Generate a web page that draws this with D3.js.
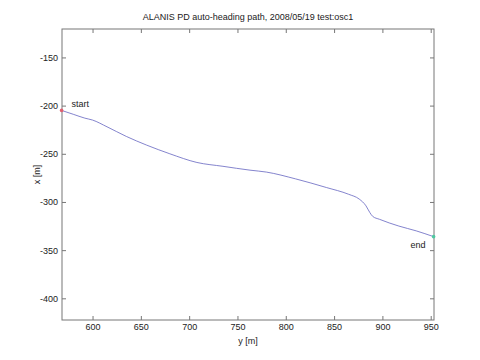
<!DOCTYPE html>
<html lang="en">
<head>
<meta charset="UTF-8">
<title>ALANIS PD path</title>
<script src="https://d3js.org/d3.v7.min.js"></script>
<style>
  body { margin: 0; background: #fff; }
  text { font-family: "Liberation Sans", Arial, sans-serif; fill: #222; }
</style>
</head>
<body>
<script>
    var width = 480, height = 360;
    var margin = {left: 62, right: 46, top: 29, bottom: 40};

    // path samples: east (y) and north (x) in metres
    var pathY = [568, 580, 592, 600, 615, 635, 656, 680, 708, 735, 763, 780, 810, 842, 865, 876, 883, 887, 890, 897, 917, 935, 953];
    var pathX = [-205, -209, -213, -215, -222, -232, -241, -250, -259, -263, -267, -269, -276, -285, -292, -297, -304, -311, -315, -318, -325, -330, -336];
    var xTicks = [600, 650, 700, 750, 800, 850, 900, 950];
    var yTicks = [-150, -200, -250, -300, -350, -400];
    var xDomain = [568.4, 953.4];
    var yDomain = [-422.5, -120.5];

    var svg = d3.select('body').append('svg').attr('width', width).attr('height', height);

    var x = d3.scaleLinear().domain(xDomain).range([margin.left, width - margin.right]);
    var y = d3.scaleLinear().domain(yDomain).range([height - margin.bottom, margin.top]);

    // axes box
    svg.append('rect')
        .attr('x', x.range()[0]).attr('y', y.range()[1])
        .attr('width', x.range()[1] - x.range()[0])
        .attr('height', y.range()[0] - y.range()[1])
        .attr('fill', 'none').attr('stroke', '#777').attr('stroke-width', 1);

    // matlab style inward ticks on all four sides
    function tickStyle(g) {
        g.select('.domain').remove();
        g.selectAll('line').attr('stroke', '#777');
        g.selectAll('text').attr('font-size', '9px').attr('fill', '#333');
    }
    var fmt = function (d) { return String(d); };
    svg.append('g').attr('transform', 'translate(0,' + y.range()[0] + ')')
        .call(d3.axisBottom(x).tickValues(xTicks).tickSizeInner(-4).tickPadding(4).tickFormat(fmt)).call(tickStyle);
    svg.append('g').attr('transform', 'translate(0,' + y.range()[1] + ')')
        .call(d3.axisTop(x).tickValues(xTicks).tickSizeInner(-4).tickFormat('')).call(tickStyle);
    svg.append('g').attr('transform', 'translate(' + x.range()[0] + ',0)')
        .call(d3.axisLeft(y).tickValues(yTicks).tickSizeInner(-4).tickPadding(4).tickFormat(fmt)).call(tickStyle);
    svg.append('g').attr('transform', 'translate(' + x.range()[1] + ',0)')
        .call(d3.axisRight(y).tickValues(yTicks).tickSizeInner(-4).tickFormat('')).call(tickStyle);

    var pts = pathY.map(function (d, i) { return [d, pathX[i]]; });
    var line = d3.line().x(function (d) { return x(d[0]); }).y(function (d) { return y(d[1]); }).curve(d3.curveMonotoneX);

    svg.append('path').datum(pts).attr('d', line)
        .attr('fill', 'none').attr('stroke', '#6464c0').attr('stroke-width', 0.8);

    var first = pts[0], last = pts[pts.length - 1];
    svg.append('circle').attr('cx', x(first[0])).attr('cy', y(first[1])).attr('r', 1.8).attr('fill', '#e06070');
    svg.append('circle').attr('cx', x(last[0])).attr('cy', y(last[1])).attr('r', 1.8).attr('fill', '#50c8a0');

    svg.append('text').attr('x', x(first[0]) + 10).attr('y', y(first[1]) - 3)
        .attr('font-size', '9px').text('start');
    svg.append('text').attr('x', x(last[0]) - 23).attr('y', y(last[1]) + 11)
        .attr('font-size', '9px').text('end');

    // labels
    var cx = (x.range()[0] + x.range()[1]) / 2;
    svg.append('text').attr('x', cx).attr('y', 20).attr('text-anchor', 'middle')
        .attr('font-size', '9px').text('ALANIS PD auto-heading path, 2008/05/19 test:osc1');
    svg.append('text').attr('x', cx).attr('y', 344).attr('text-anchor', 'middle')
        .attr('font-size', '9px').text('y [m]');
    svg.append('text').attr('transform', 'translate(40,' + ((y.range()[0] + y.range()[1]) / 2) + ') rotate(-90)')
        .attr('text-anchor', 'middle').attr('font-size', '9px').text('x [m]');
</script>
</body>
</html>
